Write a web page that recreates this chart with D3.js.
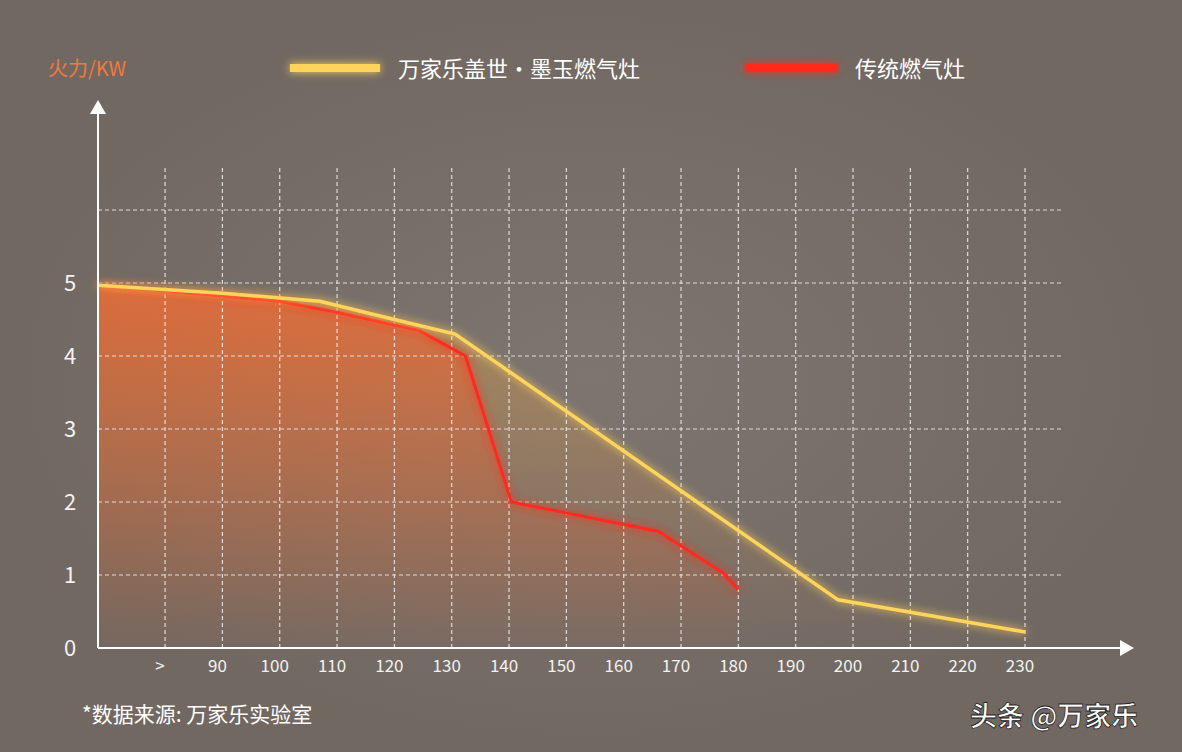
<!DOCTYPE html>
<html><head><meta charset="utf-8">
<script src="https://cdn.jsdelivr.net/npm/d3@7"></script>
<style>
body{margin:0;background:#7b736d;}
text{font-family:"Noto Sans CJK SC","Noto Sans",sans-serif;}
</style></head>
<body><svg id="c" width="1182" height="752"></svg>
<script>
// DATA
const xTickVals = [80, 90, 100, 110, 120, 130, 140, 150, 160, 170, 180, 190, 200, 210, 220, 230]
const xTickLabels = [">", "90", "100", "110", "120", "130", "140", "150", "160", "170", "180", "190", "200", "210", "220", "230"]
const yTickVals = [0, 1, 2, 3, 4, 5]
const seriesNames = ["万家乐盖世·墨玉燃气灶", "传统燃气灶"]
const wanjialeX = [68.3, 90, 107, 120, 130.6, 197.4, 230]
const wanjialeY = [4.97, 4.86, 4.75, 4.5, 4.3, 0.66, 0.22]
const tradX = [68.3, 100, 110, 124.3, 132.4, 140.4, 166, 177.3, 180]
const tradY = [4.98, 4.75, 4.6, 4.35, 4.0, 2.0, 1.6, 1.03, 0.8]

const svg = d3.select("#c")
const x = d3.scaleLinear().domain([68.3, 230]).range([98, 1025])
const y = d3.scaleLinear().domain([0, 1]).range([648, 575])

const defs = svg.append("defs")
const bg = defs.append("radialGradient").attr("id","bg")
bg.append("stop").attr("offset","0%").attr("stop-color","#7e7570")
bg.append("stop").attr("offset","100%").attr("stop-color","#716862")
svg.append("rect").attr("width",1182).attr("height",752).attr("fill","url(#bg)")

const glow = defs.append("filter").attr("id","glow").attr("filterUnits","userSpaceOnUse")
  .attr("x",0).attr("y",0).attr("width",1182).attr("height",752)
glow.append("feGaussianBlur").attr("stdDeviation",4).attr("result","b")
const m = glow.append("feMerge")
m.append("feMergeNode").attr("in","b")
m.append("feMergeNode").attr("in","SourceGraphic")

const fillG = defs.append("linearGradient").attr("id","fillG").attr("x1",0).attr("x2",0).attr("y1",0).attr("y2",1)
fillG.append("stop").attr("offset","0%").attr("stop-color","#ff5a2a").attr("stop-opacity",0.6)
fillG.append("stop").attr("offset","100%").attr("stop-color","#e8602a").attr("stop-opacity",0.03)
const fillY = defs.append("linearGradient").attr("id","fillY").attr("x1",0).attr("x2",0).attr("y1",0).attr("y2",1)
fillY.append("stop").attr("offset","0%").attr("stop-color","#f3b040").attr("stop-opacity",0.4)
fillY.append("stop").attr("offset","100%").attr("stop-color","#e0803a").attr("stop-opacity",0.0)

const yel = wanjialeX.map((v,i)=>[v, wanjialeY[i]])
const red = tradX.map((v,i)=>[v, tradY[i]])

const area = d3.area().x(d=>x(d[0])).y0(y(0)).y1(d=>y(d[1]))
svg.append("path").attr("d",area(yel)).attr("fill","url(#fillY)")
svg.append("path").attr("d",area(red)).attr("fill","url(#fillG)")

// grid
const grid = svg.append("g").attr("stroke","#f0f0f0").attr("stroke-width",1.2).attr("stroke-dasharray","4,3").attr("opacity",0.85)
grid.selectAll(".v").data(xTickVals).join("line")
  .attr("x1",d=>x(d)).attr("x2",d=>x(d)).attr("y1",y(0)).attr("y2",165)
grid.selectAll(".h").data([1,2,3,4,5,6]).join("line")
  .attr("x1",x(68.3)).attr("x2",1062).attr("y1",d=>y(d)).attr("y2",d=>y(d))

// lines
const line = d3.line().x(d=>x(d[0])).y(d=>y(d[1]))
svg.append("path").attr("d",line(red)).attr("fill","none").attr("stroke","#ff2a1f").attr("stroke-width",3).attr("filter","url(#glow)")
svg.append("path").attr("d",line(yel)).attr("fill","none").attr("stroke","#ffd45a").attr("stroke-width",3.5).attr("filter","url(#glow)")

// axes
const ax = svg.append("g").attr("stroke","#fff").attr("stroke-width",2)
ax.append("line").attr("x1",98).attr("x2",98).attr("y1",648).attr("y2",110)
ax.append("line").attr("x1",98).attr("x2",1125).attr("y1",648).attr("y2",648)
svg.append("path").attr("d","M98,100 L90,114 L106,114 Z").attr("fill","#fff")
svg.append("path").attr("d","M1134,648 L1120,640 L1120,656 Z").attr("fill","#fff")

svg.append("g").selectAll("text").data(xTickVals).join("text")
  .attr("x",d=>x(d)-5).attr("y",672).attr("text-anchor","middle")
  .attr("fill","#f2f2f2").attr("font-size",17)
  .text((d,i)=>xTickLabels[i])
svg.append("g").selectAll("text").data(yTickVals).join("text")
  .attr("x",70).attr("y",d=>y(d)+8).attr("text-anchor","middle")
  .attr("fill","#f2f2f2").attr("font-size",22)
  .text(d=>d)

svg.append("text").attr("x",48).attr("y",76).attr("fill","#f07a3c").attr("font-size",20).text("火力/KW")

// legend
const leg = [{x1:290,x2:380,c:"#ffd45a",t:seriesNames[0],tx:398},{x1:745,x2:837,c:"#ff2a1f",t:seriesNames[1],tx:855}]
leg.forEach(l=>{
  svg.append("rect").attr("x",l.x1).attr("y",64).attr("width",l.x2-l.x1).attr("height",8)
    .attr("fill",l.c).attr("filter","url(#glow)")
  svg.append("text").attr("x",l.tx).attr("y",77).attr("fill","#fff").attr("font-size",22).text(l.t)
})

svg.append("text").attr("x",82).attr("y",722).attr("fill","#fff").attr("font-size",21).text("*数据来源: 万家乐实验室")
svg.append("text").attr("x",970).attr("y",726).attr("fill","#fff").attr("font-size",27).attr("font-weight","bold")
  .attr("stroke","#222").attr("stroke-width",0.8).text("头条 @万家乐")
</script></body></html>
